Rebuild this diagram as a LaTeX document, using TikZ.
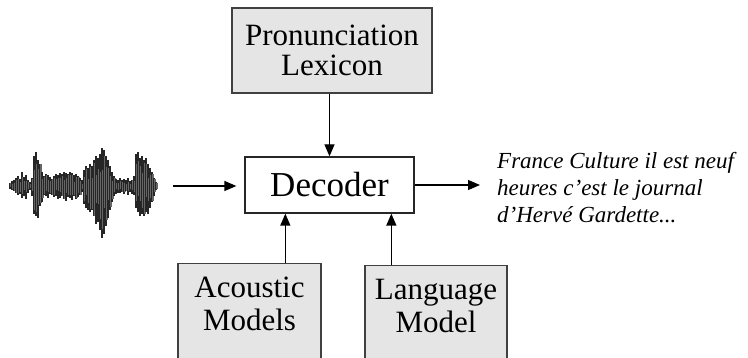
\documentclass[tikz,border=0pt]{standalone}
\usepackage{fontspec}
\setmainfont{Liberation Serif}
\usetikzlibrary{arrows.meta,calc}
\tikzset{
  graybox/.style={draw=black!75,fill=black!10,line width=1.5pt,align=center,
    font=\fontsize{31}{30}\selectfont},
  flow/.style={-{Triangle[length=12pt,width=10pt]},line width=1.3pt},
}
\begin{document}
\begin{tikzpicture}[x=1pt,y=-1pt]
  \useasboundingbox[fill=white] (0,0) rectangle (748,358);
  % speech signal
  \pgfmathsetseed{7}
  \foreach \x/\a/\b in {10/3/3,12/5/4,14/6/5,16/8/7,18/10/9,20/7/8,22/14/12,24/9/10,
      26/11/13,28/6/7,30/4/4,32/8/10,34/30/28,36/34/30,38/26/32,40/22/20,42/14/16,
      44/10/9,46/12/10,48/11/12,50/9/8,52/7/9,54/10/11,56/12/10,58/11/13,60/13/12,
      62/12/10,64/14/13,66/13/15,68/12/11,70/14/12,72/13/14,74/11/10,76/12/13,
      78/10/11,80/8/9,82/6/6,84/16/18,86/20/22,88/18/24,90/22/26,92/20/24,94/26/30,
      96/30/38,98/28/36,100/32/44,102/38/52,104/36/48,106/30/40,108/26/32,110/20/24,
      112/14/16,114/10/10,116/7/8,118/6/7,120/8/7,122/6/6,124/7/8,126/6/5,128/8/9,
      130/5/6,132/6/8,134/10/9,136/32/22,138/34/26,140/28/30,142/30/28,144/26/30,
      146/28/26,148/22/28,150/18/22,152/14/16,154/8/10,156/4/4}
  {
    \pgfmathsetmacro{\fa}{0.35+0.65*rnd}
    \pgfmathsetmacro{\fb}{0.35+0.65*rnd}
    \draw[black!85,line width=1.1pt] (\x,186-\a) -- (\x,186+\b);
    \draw[black!60,line width=1.1pt] (\x+1,186-\fa*\a) -- (\x+1,186+\fb*\b);
  }
  \coordinate (wav) at (173,186);

  \node[draw=black!85,fill=white,line width=1.3pt,minimum width=169,minimum height=56,
    font=\fontsize{35}{36}\selectfont] (dec) at (329.5,185) {Decoder};
  \node[graybox,minimum width=200,minimum height=85] (lex) at (332,50.5)
    {Pronunciation\\Lexicon};
  \node[graybox,anchor=north,minimum width=143,inner ysep=13,text depth=70,
    font=\fontsize{31}{33}\selectfont] (am) at (249.5,263) {Acoustic\\Models};
  \node[graybox,anchor=north,minimum width=142,inner ysep=13,text depth=70,
    font=\fontsize{31}{33}\selectfont] (lm) at (436,265) {Language\\Model};
  \node[anchor=west,align=left,inner sep=0pt,font=\fontsize{23}{27}\selectfont\itshape]
    (hyp) at (497,187.5) {France Culture il est neuf\\heures c'est le journal\\d'Hervé Gardette...};

  \path (dec.south west) ++(41,0) coordinate (amIn);
  \path (dec.south west) ++(147,0) coordinate (lmIn);

  \draw[flow] (lex.south -| dec.north) -- (dec.north);
  \draw[flow,shorten >=8pt] (wav) -- (wav -| dec.west);
  \draw[flow,shorten >=17pt] (dec.east) -- (dec.east -| hyp.west);
  \draw[flow] (amIn |- am.north) -- (amIn);
  \draw[flow] (lmIn |- lm.north) -- (lmIn);
\end{tikzpicture}
\end{document}
